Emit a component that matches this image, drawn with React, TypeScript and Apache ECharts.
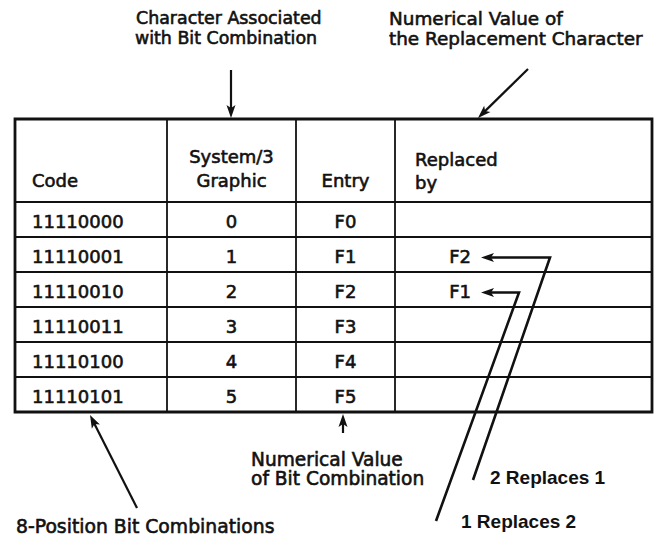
import React, { useEffect, useRef } from "react";
import * as echarts from "echarts";

const headerLabels = ["Code", "System/3", "Graphic", "Entry", "Replaced", "by"];
const codes = ["11110000", "11110001", "11110010", "11110011", "11110100", "11110101"];
const graphics = ["0", "1", "2", "3", "4", "5"];
const entries = ["F0", "F1", "F2", "F3", "F4", "F5"];
const replacedBy = ["", "F2", "F1", "", "", ""];
const notesTop = ["Character Associated", "with Bit Combination", "Numerical Value of", "the Replacement Character"];
const notesBottom = ["Numerical Value", "of Bit Combination", "8-Position Bit Combinations", "2 Replaces 1", "1 Replaces 2"];

const WIDE = "'DejaVu Sans', Verdana, sans-serif";
const NARROW = "'Liberation Sans', Arial, Helvetica, sans-serif";
const INK = "#111111";

function txt(text: string, x: number, y: number, size: number, align = "left", family = WIDE) {
  const narrow = family === NARROW;
  const style: any = {
    text,
    fill: INK,
    fontFamily: family,
    fontSize: size,
    fontWeight: narrow ? "bold" : "normal",
    textAlign: align,
    textVerticalAlign: "middle",
  };
  if (!narrow) {
    style.stroke = INK;
    style.lineWidth = 0.6;
    style.textStrokeWidth = 0.6;
  }
  return { type: "text", x, y, silent: true, style };
}

function line(x1: number, y1: number, x2: number, y2: number, w: number) {
  return {
    type: "line",
    silent: true,
    shape: { x1, y1, x2, y2 },
    style: { stroke: INK, lineWidth: w, lineCap: "square" },
  };
}

function arrowHead(fx: number, fy: number, tx: number, ty: number, len = 13, half = 4.5) {
  const dx = tx - fx;
  const dy = ty - fy;
  const d = Math.sqrt(dx * dx + dy * dy);
  const ux = dx / d;
  const uy = dy / d;
  const bx = tx - ux * len;
  const by = ty - uy * len;
  const nx = tx - ux * (len - 3);
  const ny = ty - uy * (len - 3);
  return {
    type: "polygon",
    silent: true,
    shape: {
      points: [
        [tx, ty],
        [bx - uy * half, by + ux * half],
        [nx, ny],
        [bx + uy * half, by - ux * half],
      ],
    },
    style: { fill: INK },
  };
}

function arrow(fx: number, fy: number, tx: number, ty: number, w = 2.2) {
  const dx = tx - fx;
  const dy = ty - fy;
  const d = Math.sqrt(dx * dx + dy * dy);
  const ex = tx - (dx / d) * 8;
  const ey = ty - (dy / d) * 8;
  return [
    { type: "line", silent: true, shape: { x1: fx, y1: fy, x2: ex, y2: ey }, style: { stroke: INK, lineWidth: w } },
    arrowHead(fx, fy, tx, ty),
  ];
}

export default function App() {
  const ref = useRef<HTMLDivElement>(null);

  useEffect(() => {
    if (!ref.current) return;
    const chart = echarts.init(ref.current, null, { renderer: "svg" });

    const left = 15;
    const right = 652;
    const top = 119;
    const headBottom = 202;
    const rowH = 35;
    const colX = [left, 167, 296, 395, right];
    const nRows = codes.length;
    const bottom = headBottom + rowH * nRows;

    const els: any[] = [];
    els.push({ type: "rect", silent: true, shape: { x: 0, y: 0, width: 667, height: 543 }, style: { fill: "#ffffff" } });

    for (let i = 0; i < nRows; i++) {
      const y = headBottom + rowH * i;
      els.push(line(left, y, right, y, 1.8));
    }
    for (let c = 1; c < colX.length - 1; c++) {
      els.push(line(colX[c], top, colX[c], bottom, 1.8));
    }
    els.push({
      type: "rect",
      silent: true,
      shape: { x: left, y: top, width: right - left, height: bottom - top },
      style: { fill: "none", stroke: INK, lineWidth: 2.8 },
    });

    const TS = 18;
    const c1 = (colX[1] + colX[2]) / 2;
    const c2 = (colX[2] + colX[3]) / 2;
    els.push(txt(headerLabels[0], 32, 180, TS));
    els.push(txt(headerLabels[1], c1, 156, TS, "center"));
    els.push(txt(headerLabels[2], c1, 180, TS, "center"));
    els.push(txt(headerLabels[3], c2, 180, TS, "center"));
    els.push(txt(headerLabels[4], 415, 159, TS));
    els.push(txt(headerLabels[5], 415, 182, TS));

    for (let i = 0; i < nRows; i++) {
      const cy = headBottom + rowH * i + rowH / 2 + 2;
      els.push(txt(codes[i], 32, cy, TS));
      els.push(txt(graphics[i], c1, cy, TS, "center"));
      els.push(txt(entries[i], c2, cy, TS, "center"));
      if (replacedBy[i]) els.push(txt(replacedBy[i], 471, cy, TS, "right"));
    }

    const y1 = headBottom + rowH * 1 + rowH / 2 + 3;
    const y2 = headBottom + rowH * 2 + rowH / 2 + 3;
    els.push({
      type: "polyline",
      silent: true,
      shape: { points: [[490, y1], [550, y1], [473, 480]] },
      style: { stroke: INK, lineWidth: 2.6, fill: "none", lineJoin: "miter" },
    });
    els.push(arrowHead(550, y1, 481, y1));
    els.push({
      type: "polyline",
      silent: true,
      shape: { points: [[490, y2], [519, y2], [436, 521]] },
      style: { stroke: INK, lineWidth: 2.6, fill: "none", lineJoin: "miter" },
    });
    els.push(arrowHead(519, y2, 481, y2));

    els.push(txt(notesTop[0], 136, 18, 17.4));
    els.push(txt(notesTop[1], 135, 38, 17.4));
    els.push(txt(notesTop[2], 389, 18, 18.4));
    els.push(txt(notesTop[3], 389, 38, 18.4));
    els.push(...arrow(231, 70, 231, 118));
    els.push(...arrow(528, 69, 478, 118));

    els.push(...arrow(343, 433, 343, 414));
    els.push(txt(notesBottom[0], 251, 459, 18.6));
    els.push(txt(notesBottom[1], 251, 478, 18.6));
    els.push(...arrow(137, 508, 90, 415));
    els.push(txt(notesBottom[2], 16, 526, 18.8));
    els.push(txt(notesBottom[3], 490, 477, 19, "left", NARROW));
    els.push(txt(notesBottom[4], 461, 521, 19, "left", NARROW));

    chart.setOption({
      animation: false,
      backgroundColor: "#ffffff",
      graphic: { elements: els },
    });

    return () => chart.dispose();
  }, []);

  return (
    <div
      ref={ref}
      style={{ position: "fixed", left: 0, top: 0, width: 667, height: 543, background: "#fff" }}
    />
  );
}
